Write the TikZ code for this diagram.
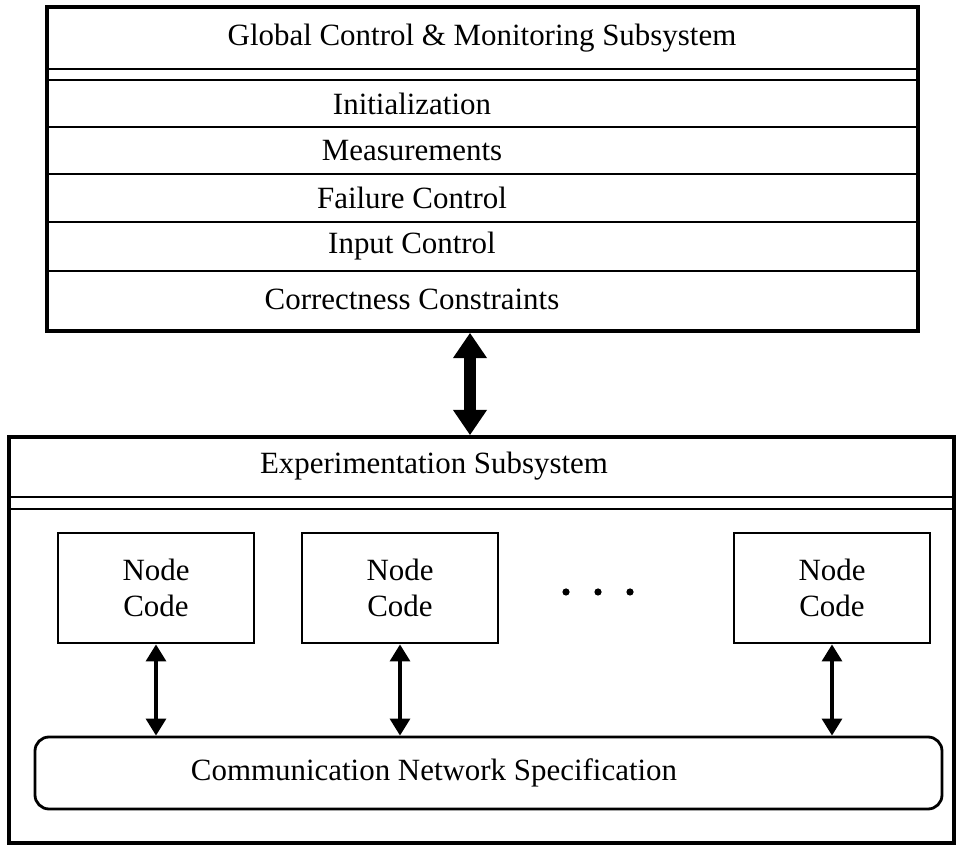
\documentclass[tikz,border=0pt]{standalone}
\usepackage{fontspec}
\setmainfont{Liberation Serif}
\usetikzlibrary{positioning,arrows.meta}
\tikzset{>={Triangle[width=14pt,length=12pt]}}
\tikzset{
  sysbox/.style={draw, line width=2.6pt, inner sep=0pt},
  sepline/.style={line width=2pt},
  codebox/.style={draw, line width=2pt, minimum width=4.9cm, minimum height=2.75cm, align=center},
  netbox/.style={draw, line width=2pt, rounded corners=0.35cm, minimum width=22.675cm, minimum height=1.8cm},
  linkarrow/.style={<->, line width=2.6pt},
  bigarrow/.style={line width=8pt, >={Triangle[width=23pt,length=18pt]}, <->},
}

\begin{document}
\begin{tikzpicture}[font=\fontsize{22pt}{26pt}\selectfont]
  \useasboundingbox (0,0) rectangle (23.9,21.125);

  % global control & monitoring subsystem
  \node[sysbox, minimum width=21.775cm, minimum height=8.1cm] (gcm) at (12.0625,16.9) {};
  \node (gcmtitle) at (12.05,20.175) {Global Control \& Monitoring Subsystem};
  \draw[sepline] (gcm.west |- 0,19.4) -- (gcm.east |- 0,19.4);
  \draw[sepline] (gcm.west |- 0,19.125) -- (gcm.east |- 0,19.125);
  \foreach \y in {17.95,16.775,15.575,14.35}
    \draw[sepline] (gcm.west |- 0,\y) -- (gcm.east |- 0,\y);
  \foreach \y/\txt/\nm in {18.5375/Initialization/init,17.3625/Measurements/meas,
      16.175/Failure Control/fail,14.9625/Input Control/input,13.65/Correctness Constraints/corr}
    \node (\nm) at (10.3,\y) {\txt};

  % experimentation subsystem
  \node[sysbox, minimum width=23.625cm, minimum height=10.15cm] (exp) at (12.0375,5.125) {};
  \node (exptitle) at (10.85,9.475) {Experimentation Subsystem};
  \draw[sepline] (exp.west |- 0,8.7) -- (exp.east |- 0,8.7);
  \draw[sepline] (exp.west |- 0,8.4) -- (exp.east |- 0,8.4);

  \node[codebox] (nc1) at (3.9,6.425) {Node\\Code};
  \node[codebox] (nc2) at (10.0,6.425) {Node\\Code};
  \node[codebox] (nc3) at (20.8,6.425) {Node\\Code};
  \foreach \x in {14.15,14.95,15.75}
    \fill (\x,6.325) circle [radius=.09];

  \node[netbox] (net) at (12.2125,1.8) {};
  \node (netlbl) at (10.85,1.8) {Communication Network Specification};

  % links
  \foreach \n in {nc1,nc2,nc3}
    \draw[linkarrow] (\n.south) -- (net.north -| \n.south);
  \coordinate (axis) at (11.75,0);
  \draw[bigarrow] (gcm.south -| axis) -- (exp.north -| axis);
\end{tikzpicture}
\end{document}
